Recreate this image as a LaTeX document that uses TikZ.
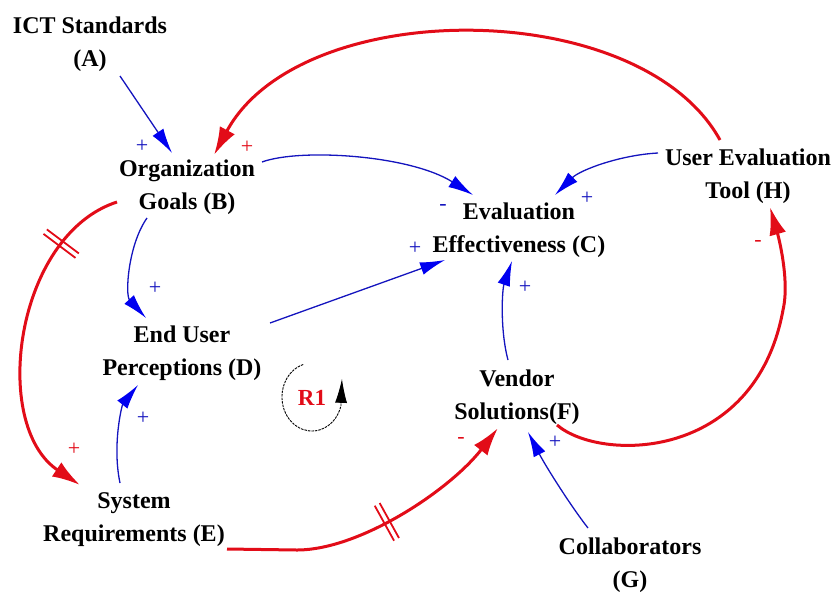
\documentclass[tikz,border=0pt]{standalone}
\usepackage{fontspec}
\setmainfont{Liberation Serif}
\usetikzlibrary{arrows.meta,calc,decorations.markings}

\definecolor{cldred}{RGB}{226,12,24}
\definecolor{cldblue}{RGB}{20,20,190}
\definecolor{tipblue}{RGB}{0,0,240}

\tikzset{
  var/.style={font=\fontsize{24}{33}\selectfont\bfseries, align=center, inner sep=0pt, text=black},
  poslink/.style={draw=cldblue, line width=1.3pt, -{Latex[length=25pt,width=13pt,color=tipblue]}},
  redlink/.style={draw=cldred, line width=3pt, -{Latex[length=28pt,width=17pt]}},
  polblue/.style={font=\fontsize{22}{22}\selectfont, text=cldblue, inner sep=0pt},
  polred/.style={font=\fontsize{22}{22}\selectfont, text=cldred, inner sep=0pt},
  delaymark/.style={postaction={decorate, decoration={markings,
      mark=at position #1 with {\draw[-, draw=cldred, line width=1.8pt]
        (-2.8,-20) -- (-2.8,20) (2.8,-20) -- (2.8,20);}}}}
}

\begin{document}
\begin{tikzpicture}[x=1pt, y=-1pt]
  \useasboundingbox (0,0) rectangle (837,592);

  % variables
  \node[var] (A) at (90,44)   {ICT Standards\\(A)};
  \node[var] (B) at (187,187) {Organization\\Goals (B)};
  \node[var] (C) at (519,230) {Evaluation\\Effectiveness (C)};
  \node[var] (D) at (182,353) {End User\\Perceptions (D)};
  \node[var] (E) at (134,520) {System\\Requirements (E)};
  \node[var] (F) at (517,397) {Vendor\\Solutions(F)};
  \node[var] (G) at (630,565) {Collaborators\\(G)};
  \node[var] (H) at (748,176) {User Evaluation\\Tool (H)};

  % causal links
  \draw[poslink] ($(A)+(30,32)$) -- ($(B)+(-15,-34)$);
  \draw[redlink] ($(H)+(-28,-36)$) .. controls +(-80,-145) and +(86,-160) .. ($(B)+(27,-32)$);
  \draw[poslink] ($(B)+(75,-25)$) .. controls +(38,-14) and +(-63,-40) .. ($(C)+(-46,-35)$);
  \draw[poslink] ($(H)+(-90,-23)$) .. controls +(-38,2) and +(25,-25) .. ($(C)+(36,-35)$);
  \draw[poslink] ($(B)+(-40,31)$) .. controls +(-19,27) and +(-21,-23) .. ($(D)+(-36,-35)$);
  \draw[poslink] ($(D)+(88,-30)$) -- ($(C)+(-74,30)$);
  \draw[poslink] ($(F)+(-9,-37)$) .. controls +(-8,-30) and +(-10,29) .. ($(C)+(-7,31)$);
  \draw[poslink] ($(E)+(-14,-37)$) .. controls +(-8,-38) and +(-16,20) .. ($(D)+(-44,32)$);
  \draw[redlink, delaymark=0.21] ($(B)+(-70,15)$) .. controls +(-102,33) and +(-90,-60) .. ($(E)+(-54,-35)$);
  \draw[redlink, delaymark=0.53] ($(E)+(93,29)$) -- ++(70,1) .. controls +(63,0) and +(-48,62) .. ($(F)+(-19,31)$);
  \draw[redlink] ($(F)+(40,28)$) .. controls (600,462) and (755,462) .. (783,310)
                 .. controls (790,280) and (778,235) .. ($(H)+(22,31)$);
  \draw[poslink] ($(G)+(-42,-37)$) .. controls +(-18,-23) and +(17,33) .. ($(F)+(11,35)$);

  % link polarities
  \node[polblue] (p1)  at (142,146) {+};
  \node[polred]  (p2)  at (247,147) {+};
  \node[polblue] (p3)  at (443,207) {-};
  \node[polblue] (p4)  at (587,198) {+};
  \node[polblue] (p5)  at (155,288) {+};
  \node[polblue] (p6)  at (415,248) {+};
  \node[polblue] (p7)  at (525,287) {+};
  \node[polblue] (p8)  at (143,418) {+};
  \node[polred]  (p9)  at (74,449)  {+};
  \node[polred]  (p10) at (461,440) {-};
  \node[polred]  (p11) at (758,243) {-};
  \node[polblue] (p12) at (555,442) {+};

  % reinforcing loop marker
  \node[font=\fontsize{23}{23}\selectfont\bfseries, text=cldred, inner sep=0pt] (R1) at (312,398) {R1};
  \draw[line width=0.9pt, dash pattern=on 2.5pt off 1pt, -{Latex[length=24pt,width=12pt]}]
    ($(R1)+(-8.8,-33.5)$) arc[start angle=-107, end angle=-345, x radius=30, y radius=34] -- ++(1,-27);
\end{tikzpicture}
\end{document}
